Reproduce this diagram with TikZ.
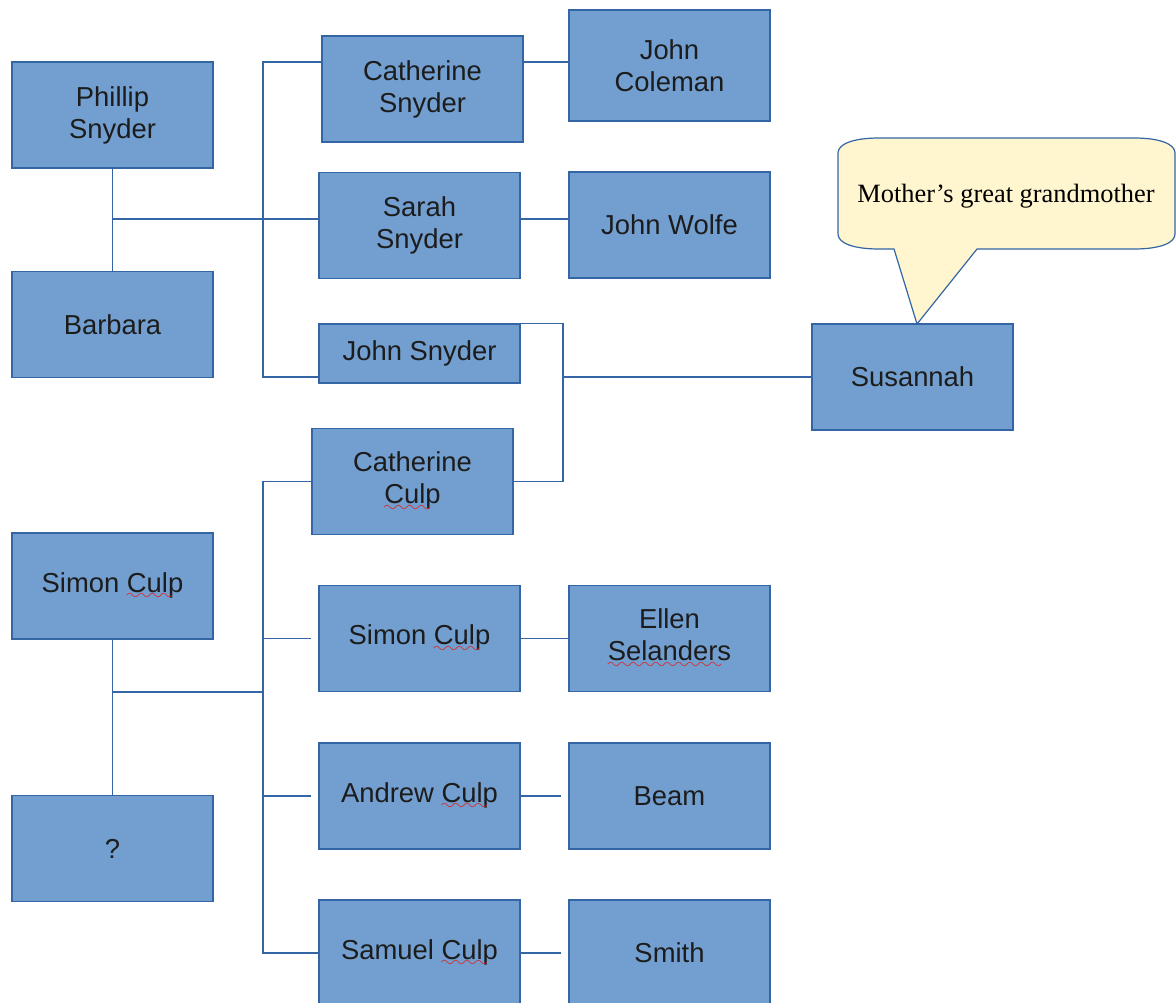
\documentclass[tikz,border=0pt]{standalone}
\usepackage{fontspec}
\setmainfont{Liberation Sans}
\newfontfamily\notefont{Liberation Serif}
\usepackage{tikz}

\definecolor{boxfill}{HTML}{729FCF}
\definecolor{boxline}{HTML}{3465A4}
\definecolor{notefill}{HTML}{FFF5CE}
\definecolor{textdark}{HTML}{1C1C1C}
\definecolor{spellred}{HTML}{E0201C}

% red spell-check wave under a word
\font\wavefont=lasy8
\newcommand{\spellmark}[1]{\setbox0\hbox{#1}\rlap{\usebox0}%
    \textcolor{spellred}{\lower3.6pt\hbox to \wd0{\leaders\hbox{\wavefont\char58}\hfil}}}

\begin{document}
\begin{tikzpicture}[
    x=0.5pt, y=-0.5pt,
    person/.style={draw=boxline, fill=boxfill, line width=0.75pt, minimum width=100.5pt,
        minimum height=53pt, align=center, inner sep=2pt, text=textdark,
        font=\fontsize{13.7}{16}\selectfont},
    link/.style={draw=boxline, line width=0.75pt},
    note/.style={draw=boxline, fill=notefill, line width=0.6pt}
]

\useasboundingbox (0,0) rectangle (1176,1002);
\clip (0,0) rectangle (1176,1002);

% Snyder family
\node[person] (phillip) at (112.5,115) {Phillip\\Snyder};
\node[person] (barbara) at (112.5,324.5) {Barbara};

\node[person] (csnyder) at (422.5,89) {Catherine\\Snyder};
\node[person] (sarah) at (419.5,225.5) {Sarah\\Snyder};
\node[person, minimum height=29.5pt] (jsnyder) at (419.5,353.5) {John Snyder};

% Spouses
\node[person, minimum height=55.5pt] (jcoleman) at (669.5,65.5) {John\\Coleman};
\node[person] (jwolfe) at (669.5,225) {John Wolfe};

% Susannah
\node[person] (susannah) at (912.5,377) {Susannah};

% Culp family
\node[person] (simon) at (112.5,586) {Simon \spellmark{Culp}};
\node[person] (unknown) at (112.5,848.5) {?};

\node[person] (cculp) at (412.5,481.5) {Catherine\\\spellmark{Culp}};
\node[person] (simonjr) at (419.5,638.5) {Simon \spellmark{Culp}};
\node[person] (andrew) at (419.5,796) {Andrew \spellmark{Culp}};
\node[person] (samuel) at (419.5,953) {Samuel \spellmark{Culp}};

% Spouses
\node[person] (ellen) at (669.5,638.5) {Ellen\\\spellmark{Selanders}};
\node[person] (beam) at (669.5,796) {Beam};
\node[person] (smith) at (669.5,953) {Smith};

% Snyder lines
\coordinate (sjoin) at (112.5,219);
\coordinate (sbartop) at (263,62);
\coordinate (sbarbot) at (263,377);
\draw[link] (phillip) -- (barbara);
\draw[link] (sjoin) -- (sjoin -| sarah.west);
\draw[link] (csnyder.west |- sbartop) -- (sbartop) -- (sbarbot) -- (jsnyder.west |- sbarbot);
\draw[link] (csnyder.east |- sbartop) -- (jcoleman.west |- sbartop);
\draw[link] (sarah.east |- sjoin) -- (jwolfe.west |- sjoin);

% Parents of Susannah
\coordinate (mjoin) at (563,377);
\draw[link] (jsnyder.north east) -- (jsnyder.north east -| mjoin) -- (cculp.east -| mjoin) -- (cculp.east);
\draw[link] (mjoin) -- (susannah.west);

% Culp lines
\coordinate (cjoin) at (112.5,692);
\coordinate (cbartop) at (263,481.5);
\coordinate (cbarbot) at (263,953);
\draw[link] (simon) -- (unknown);
\draw[link] (cjoin) -- (cjoin -| cbartop);
\draw[link] (cculp.west) -- (cbartop) -- (cbarbot) -- (samuel.west);
\draw[link, shorten >=3.5pt] (cbartop |- simonjr.west) -- (simonjr.west);
\draw[link, shorten >=3.5pt] (cbartop |- andrew.west) -- (andrew.west);
\draw[link] (simonjr) -- (ellen);
\draw[link, shorten >=3.5pt] (andrew) -- (beam);
\draw[link, shorten >=3.5pt] (samuel) -- (smith);

% Callout
\coordinate (tip) at (917,324);
\draw[note] (894,249) -- (tip) -- (977,249) -- (1134,249)
    .. controls (1160,249) and (1175,243) .. (1175,234) -- (1175,153)
    .. controls (1175,144) and (1160,138) .. (1134,138) -- (879,138)
    .. controls (853,138) and (838,144) .. (838,153) -- (838,234)
    .. controls (838,243) and (853,249) .. (879,249) -- cycle;
\node[font=\notefont\fontsize{13.2}{15}\selectfont, text=black] (remark) at (1006,196) {Mother’s great grandmother};

\end{tikzpicture}
\end{document}
